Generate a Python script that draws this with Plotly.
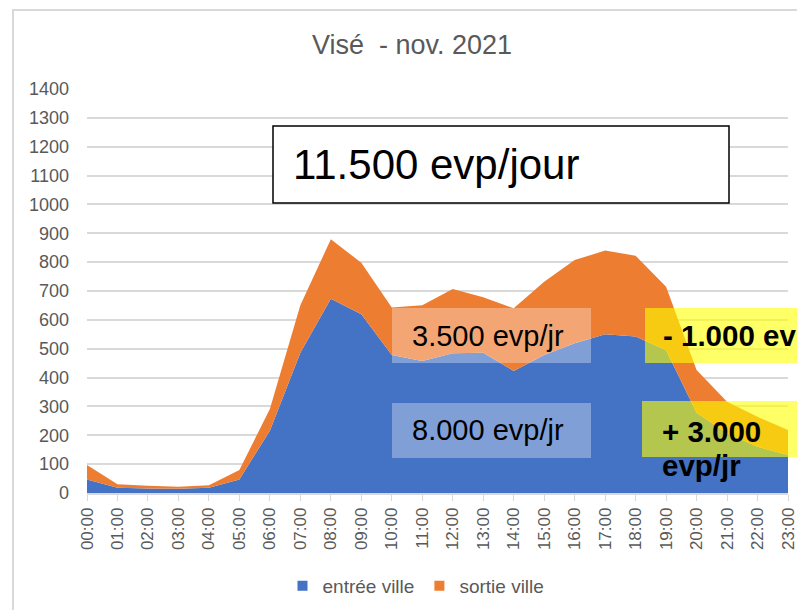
import plotly.graph_objects as go

# hourly counts, Visé - nov. 2021
hours = ["%02d:00" % h for h in range(24)]
entree_ville = [47, 18, 16, 15, 18, 47, 216, 486, 673, 619, 478, 457,
                484, 486, 423, 478, 519, 550, 542, 495, 278, 207, 160, 132]
sortie_ville = [50, 12, 9, 7, 9, 33, 75, 165, 206, 179, 165, 194,
                223, 192, 217, 254, 288, 290, 280, 220, 148, 109, 104, 86]

BLUE = "#4472C4"
ORANGE = "#ED7D31"
GREY_TXT = "#595959"
GRID = "#D9D9D9"
FONT = "Liberation Sans, Arial, sans-serif"

FIG_W, FIG_H = 797, 610
# plot area in page pixels
L, R, T, B = 87, 788, 89, 493
W, H = R - L, B - T


def px(x):
    return (x - L) / W


def py(y):
    return (B - y) / H


fig = go.Figure()
fig.add_trace(go.Scatter(x=hours, y=entree_ville, name="entrée ville",
                         stackgroup="one", mode="lines", showlegend=False,
                         line=dict(width=0, color=BLUE), fillcolor=BLUE))
fig.add_trace(go.Scatter(x=hours, y=sortie_ville, name="sortie ville",
                         stackgroup="one", mode="lines", showlegend=False,
                         line=dict(width=0, color=ORANGE), fillcolor=ORANGE))
# square legend keys like Excel
for name, col in [("entrée ville", BLUE), ("sortie ville", ORANGE)]:
    fig.add_trace(go.Scatter(x=[hours[0]], y=[None], name=name, mode="markers",
                             marker=dict(symbol="square", size=10, color=col)))

shapes = [
    # outer chart border
    dict(type="rect", xref="paper", yref="paper", x0=px(13), x1=px(810),
         y0=py(620), y1=py(10), line=dict(color=GRID, width=2), layer="below"),
    # total box
    dict(type="rect", xref="paper", yref="paper", x0=px(273), x1=px(729),
         y0=py(203), y1=py(126), fillcolor="white",
         line=dict(color="black", width=1.5)),
    # white translucent boxes
    dict(type="rect", xref="paper", yref="paper", x0=px(392), x1=px(591),
         y0=py(363), y1=py(308), fillcolor="rgba(255,255,255,0.32)", line_width=0),
    dict(type="rect", xref="paper", yref="paper", x0=px(392), x1=px(591),
         y0=py(458), y1=py(403), fillcolor="rgba(255,255,255,0.32)", line_width=0),
    # yellow boxes
    dict(type="rect", xref="paper", yref="paper", x0=px(645), x1=px(805),
         y0=py(363), y1=py(308), fillcolor="rgba(255,255,0,0.6)", line_width=0),
    dict(type="rect", xref="paper", yref="paper", x0=px(642), x1=px(805),
         y0=py(457), y1=py(401), fillcolor="rgba(255,255,0,0.6)", line_width=0),
]

notes = [
    ("11.500 evp/jour", 291, 164, 42, False, "left"),
    ("3.500 evp/jr", 488, 336, 29, False, "center"),
    ("8.000 evp/jr", 488, 430, 29, False, "center"),
    ("- 1.000 ev", 661, 335, 29.5, True, "left"),
    ("+ 3.000", 660, 431, 29.5, True, "left"),
    ("evp/jr", 660, 465, 29.5, True, "left"),
]
annotations = []
for txt, x, y, size, bold, anchor in notes:
    annotations.append(dict(
        text="<b>%s</b>" % txt if bold else txt,
        xref="paper", yref="paper", x=px(x), y=py(y),
        xanchor=anchor, yanchor="middle", showarrow=False,
        font=dict(family=FONT, size=size, color="black")))

fig.update_layout(
    width=FIG_W, height=FIG_H,
    margin=dict(l=L, r=FIG_W - R, t=T, b=FIG_H - B, autoexpand=False),
    paper_bgcolor="white", plot_bgcolor="white",
    title=dict(text="Visé  - nov. 2021", x=px(412), xref="paper",
               y=1 - 45 / FIG_H, yanchor="middle", xanchor="center",
               font=dict(family=FONT, size=27, color=GREY_TXT)),
    xaxis=dict(type="category", range=[0, 23], tickangle=-90, automargin=False,
               showgrid=False, showline=True, linecolor=GRID, linewidth=1.5,
               ticks="outside", ticklen=6, tickcolor=GRID,
               tickfont=dict(family=FONT, size=17, color=GREY_TXT)),
    yaxis=dict(range=[0, 1400], dtick=100, showgrid=True, gridcolor=GRID,
               gridwidth=1.5, zeroline=False, ticks="", ticklabelstandoff=17,
               automargin=False,
               tickfont=dict(family=FONT, size=18, color=GREY_TXT)),
    legend=dict(orientation="h", x=px(416), y=py(586), xanchor="center",
                yanchor="middle", traceorder="normal",
                font=dict(family=FONT, size=19, color=GREY_TXT)),
    shapes=shapes,
    annotations=annotations,
)

# drop the default 8px page margin so the figure sits at the window origin
fig.write_html("out.html", config={"displayModeBar": False},
               post_script="document.body.style.margin = '0';")
